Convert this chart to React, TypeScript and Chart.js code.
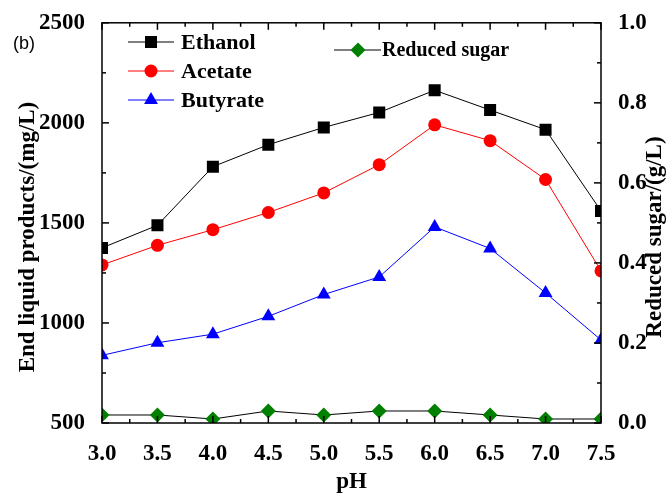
import React, { useEffect, useRef } from 'react';
import { Chart, registerables } from 'chart.js';

Chart.register(...registerables);

const pH = [3.0, 3.5, 4.0, 4.5, 5.0, 5.5, 6.0, 6.5, 7.0, 7.5];
const ethanol = [1375, 1488, 1781, 1891, 1977, 2052, 2163, 2064, 1966, 1560];
const acetate = [1290, 1388, 1466, 1552, 1650, 1791, 1990, 1911, 1717, 1260];
const butyrate = [838, 901, 944, 1033, 1142, 1230, 1480, 1372, 1150, 915];
const sugar = [0.02, 0.02, 0.01, 0.03, 0.02, 0.03, 0.03, 0.02, 0.01, 0.01];

const xMajor = [3.0, 3.5, 4.0, 4.5, 5.0, 5.5, 6.0, 6.5, 7.0, 7.5];
const xMinor = [3.25, 3.75, 4.25, 4.75, 5.25, 5.75, 6.25, 6.75, 7.25];
const yMajor = [500, 1000, 1500, 2000, 2500];
const yMinor = [750, 1250, 1750, 2250];
const y2Major = [0, 0.2, 0.4, 0.6, 0.8, 1.0];
const y2Minor = [0.1, 0.3, 0.5, 0.7, 0.9];

const SERIF = "'Liberation Serif', 'Times New Roman', serif";
const SANS = "'Liberation Sans', Arial, sans-serif";

function drawMarker(ctx: CanvasRenderingContext2D, style: string, x: number, y: number, r: number, color: string) {
  ctx.save();
  ctx.fillStyle = color;
  ctx.beginPath();
  if (style === 'rect') {
    const s = Math.SQRT1_2 * r;
    ctx.rect(x - s, y - s, 2 * s, 2 * s);
  } else if (style === 'circle') {
    ctx.arc(x, y, r, 0, Math.PI * 2);
  } else if (style === 'triangle') {
    let a = 0;
    ctx.moveTo(x + Math.sin(a) * r, y - Math.cos(a) * r);
    a += (2 * Math.PI) / 3;
    ctx.lineTo(x + Math.sin(a) * r, y - Math.cos(a) * r);
    a += (2 * Math.PI) / 3;
    ctx.lineTo(x + Math.sin(a) * r, y - Math.cos(a) * r);
    ctx.closePath();
  } else {
    ctx.moveTo(x, y - r);
    ctx.lineTo(x + r, y);
    ctx.lineTo(x, y + r);
    ctx.lineTo(x - r, y);
    ctx.closePath();
  }
  ctx.fill();
  ctx.restore();
}

const decorPlugin = {
  id: 'decor',
  afterDraw(chart: any) {
    const ctx: CanvasRenderingContext2D = chart.ctx;
    const { left, right, top, bottom } = chart.chartArea;
    const sx = chart.scales.x;
    const sy = chart.scales.y;
    const sy2 = chart.scales.y2;
    ctx.save();
    ctx.strokeStyle = '#000';
    ctx.lineWidth = 1.5;
    const line = (x1: number, y1: number, x2: number, y2: number) => {
      ctx.beginPath();
      ctx.moveTo(x1, y1);
      ctx.lineTo(x2, y2);
      ctx.stroke();
    };
    xMajor.forEach((v) => {
      const p = sx.getPixelForValue(v);
      line(p, bottom, p, bottom - 7);
      line(p, top, p, top + 7);
    });
    xMinor.forEach((v) => {
      const p = sx.getPixelForValue(v);
      line(p, bottom, p, bottom - 4);
      line(p, top, p, top + 4);
    });
    yMajor.forEach((v) => {
      const p = sy.getPixelForValue(v);
      line(left, p, left + 7, p);
    });
    yMinor.forEach((v) => {
      const p = sy.getPixelForValue(v);
      line(left, p, left + 4, p);
    });
    y2Major.forEach((v) => {
      const p = sy2.getPixelForValue(v);
      line(right, p, right - 7, p);
    });
    y2Minor.forEach((v) => {
      const p = sy2.getPixelForValue(v);
      line(right, p, right - 4, p);
    });
    ctx.strokeRect(left, top, right - left, bottom - top);

    // Axis titles (rotated, reading bottom-to-top)
    ctx.fillStyle = '#000';
    ctx.textAlign = 'center';
    ctx.textBaseline = 'middle';
    ctx.font = `bold 23px ${SERIF}`;
    ctx.save();
    ctx.translate(28, 237);
    ctx.rotate(-Math.PI / 2);
    ctx.fillText('End liquid products/(mg/L)', 0, 0);
    ctx.restore();
    ctx.save();
    ctx.translate(655, 237);
    ctx.rotate(-Math.PI / 2);
    ctx.fillText('Reduced sugar/(g/L)', 0, 0);
    ctx.restore();

    // Panel label
    ctx.textAlign = 'left';
    ctx.font = `18px ${SANS}`;
    ctx.fillText('(b)', 13, 44);

    // Legends
    const items = [
      { text: 'Ethanol', color: '#000000', line: '#000000', style: 'rect', r: 8.5, y: 42 },
      { text: 'Acetate', color: '#ff0000', line: '#ff0000', style: 'circle', r: 6.5, y: 71 },
      { text: 'Butyrate', color: '#0000ff', line: '#0000ff', style: 'triangle', r: 8, y: 100 },
    ];
    items.forEach((it) => {
      ctx.strokeStyle = it.line;
      ctx.lineWidth = 1;
      line(128, it.y, 174, it.y);
      drawMarker(ctx, it.style, 151, it.y, it.r, it.color);
      ctx.fillStyle = '#000';
      ctx.font = `bold 22px ${SERIF}`;
      ctx.textAlign = 'left';
      ctx.textBaseline = 'middle';
      ctx.fillText(it.text, 181, it.y + 1);
    });
    ctx.strokeStyle = '#000';
    ctx.lineWidth = 1;
    line(334, 50, 381, 50);
    drawMarker(ctx, 'diamond', 358, 50, 7.5, '#008000');
    ctx.fillStyle = '#000';
    ctx.font = `bold 20px ${SERIF}`;
    ctx.fillText('Reduced sugar', 382, 51);
    ctx.restore();
  },
};

export default function App() {
  const ref = useRef<HTMLCanvasElement | null>(null);
  useEffect(() => {
    if (!ref.current) return;
    const tickFont = { family: SERIF, size: 23, weight: 'bold' as const };
    const chart = new Chart(ref.current, {
      type: 'line',
      data: {
        datasets: [
          {
            label: 'Ethanol',
            data: pH.map((x, i) => ({ x, y: ethanol[i] })),
            borderColor: '#000000',
            backgroundColor: '#000000',
            borderWidth: 1,
            pointStyle: 'rect',
            pointRadius: 8.5,
            pointBorderWidth: 0,
            yAxisID: 'y',
            clip: 0,
          },
          {
            label: 'Acetate',
            data: pH.map((x, i) => ({ x, y: acetate[i] })),
            borderColor: '#ff0000',
            backgroundColor: '#ff0000',
            borderWidth: 1,
            pointStyle: 'circle',
            pointRadius: 6.5,
            pointBorderWidth: 0,
            yAxisID: 'y',
            clip: 0,
          },
          {
            label: 'Butyrate',
            data: pH.map((x, i) => ({ x, y: butyrate[i] })),
            borderColor: '#0000ff',
            backgroundColor: '#0000ff',
            borderWidth: 1,
            pointStyle: 'triangle',
            pointRadius: 8,
            pointBorderWidth: 0,
            yAxisID: 'y',
            clip: 0,
          },
          {
            label: 'Reduced sugar',
            data: pH.map((x, i) => ({ x, y: sugar[i] })),
            borderColor: '#000000',
            backgroundColor: '#008000',
            pointBackgroundColor: '#008000',
            pointBorderColor: '#008000',
            borderWidth: 1,
            pointStyle: 'rectRot',
            pointRadius: 7.5,
            pointBorderWidth: 0,
            yAxisID: 'y2',
            clip: 0,
          },
        ],
      },
      options: {
        responsive: false,
        animation: false,
        devicePixelRatio: 1,
        layout: { padding: { top: 22, left: 0, right: 0, bottom: 0 } },
        plugins: { legend: { display: false }, tooltip: { enabled: false } },
        elements: { line: { tension: 0 } },
        scales: {
          x: {
            type: 'linear',
            min: 3,
            max: 7.5,
            grid: { display: false },
            border: { display: false },
            ticks: {
              stepSize: 0.5,
              padding: 9,
              color: '#000',
              font: tickFont,
              maxRotation: 0,
              autoSkip: false,
              callback: (v: any) => Number(v).toFixed(1),
            },
            title: {
              display: true,
              text: 'pH',
              color: '#000',
              font: { family: SERIF, size: 23, weight: 'bold' },
              padding: { top: 0, bottom: 4 },
            },
            afterFit: (s: any) => {
              s.height = 77;
            },
          },
          y: {
            type: 'linear',
            position: 'left',
            min: 500,
            max: 2500,
            grid: { display: false },
            border: { display: false },
            ticks: {
              stepSize: 500,
              padding: 9,
              color: '#000',
              font: tickFont,
              callback: (v: any) => String(Math.round(Number(v))),
            },
            afterFit: (s: any) => {
              s.width = 102;
            },
          },
          y2: {
            type: 'linear',
            position: 'right',
            min: 0,
            max: 1,
            grid: { display: false },
            border: { display: false },
            ticks: {
              stepSize: 0.2,
              padding: 9,
              color: '#000',
              font: tickFont,
              callback: (v: any) => Number(v).toFixed(1),
            },
            afterFit: (s: any) => {
              s.width = 71;
            },
          },
        },
      },
      plugins: [decorPlugin],
    });
    return () => chart.destroy();
  }, []);
  return (
    <div style={{ position: 'absolute', left: 0, top: 0, width: 672, height: 500, background: '#fff' }}>
      <canvas ref={ref} width={672} height={500} />
    </div>
  );
}
